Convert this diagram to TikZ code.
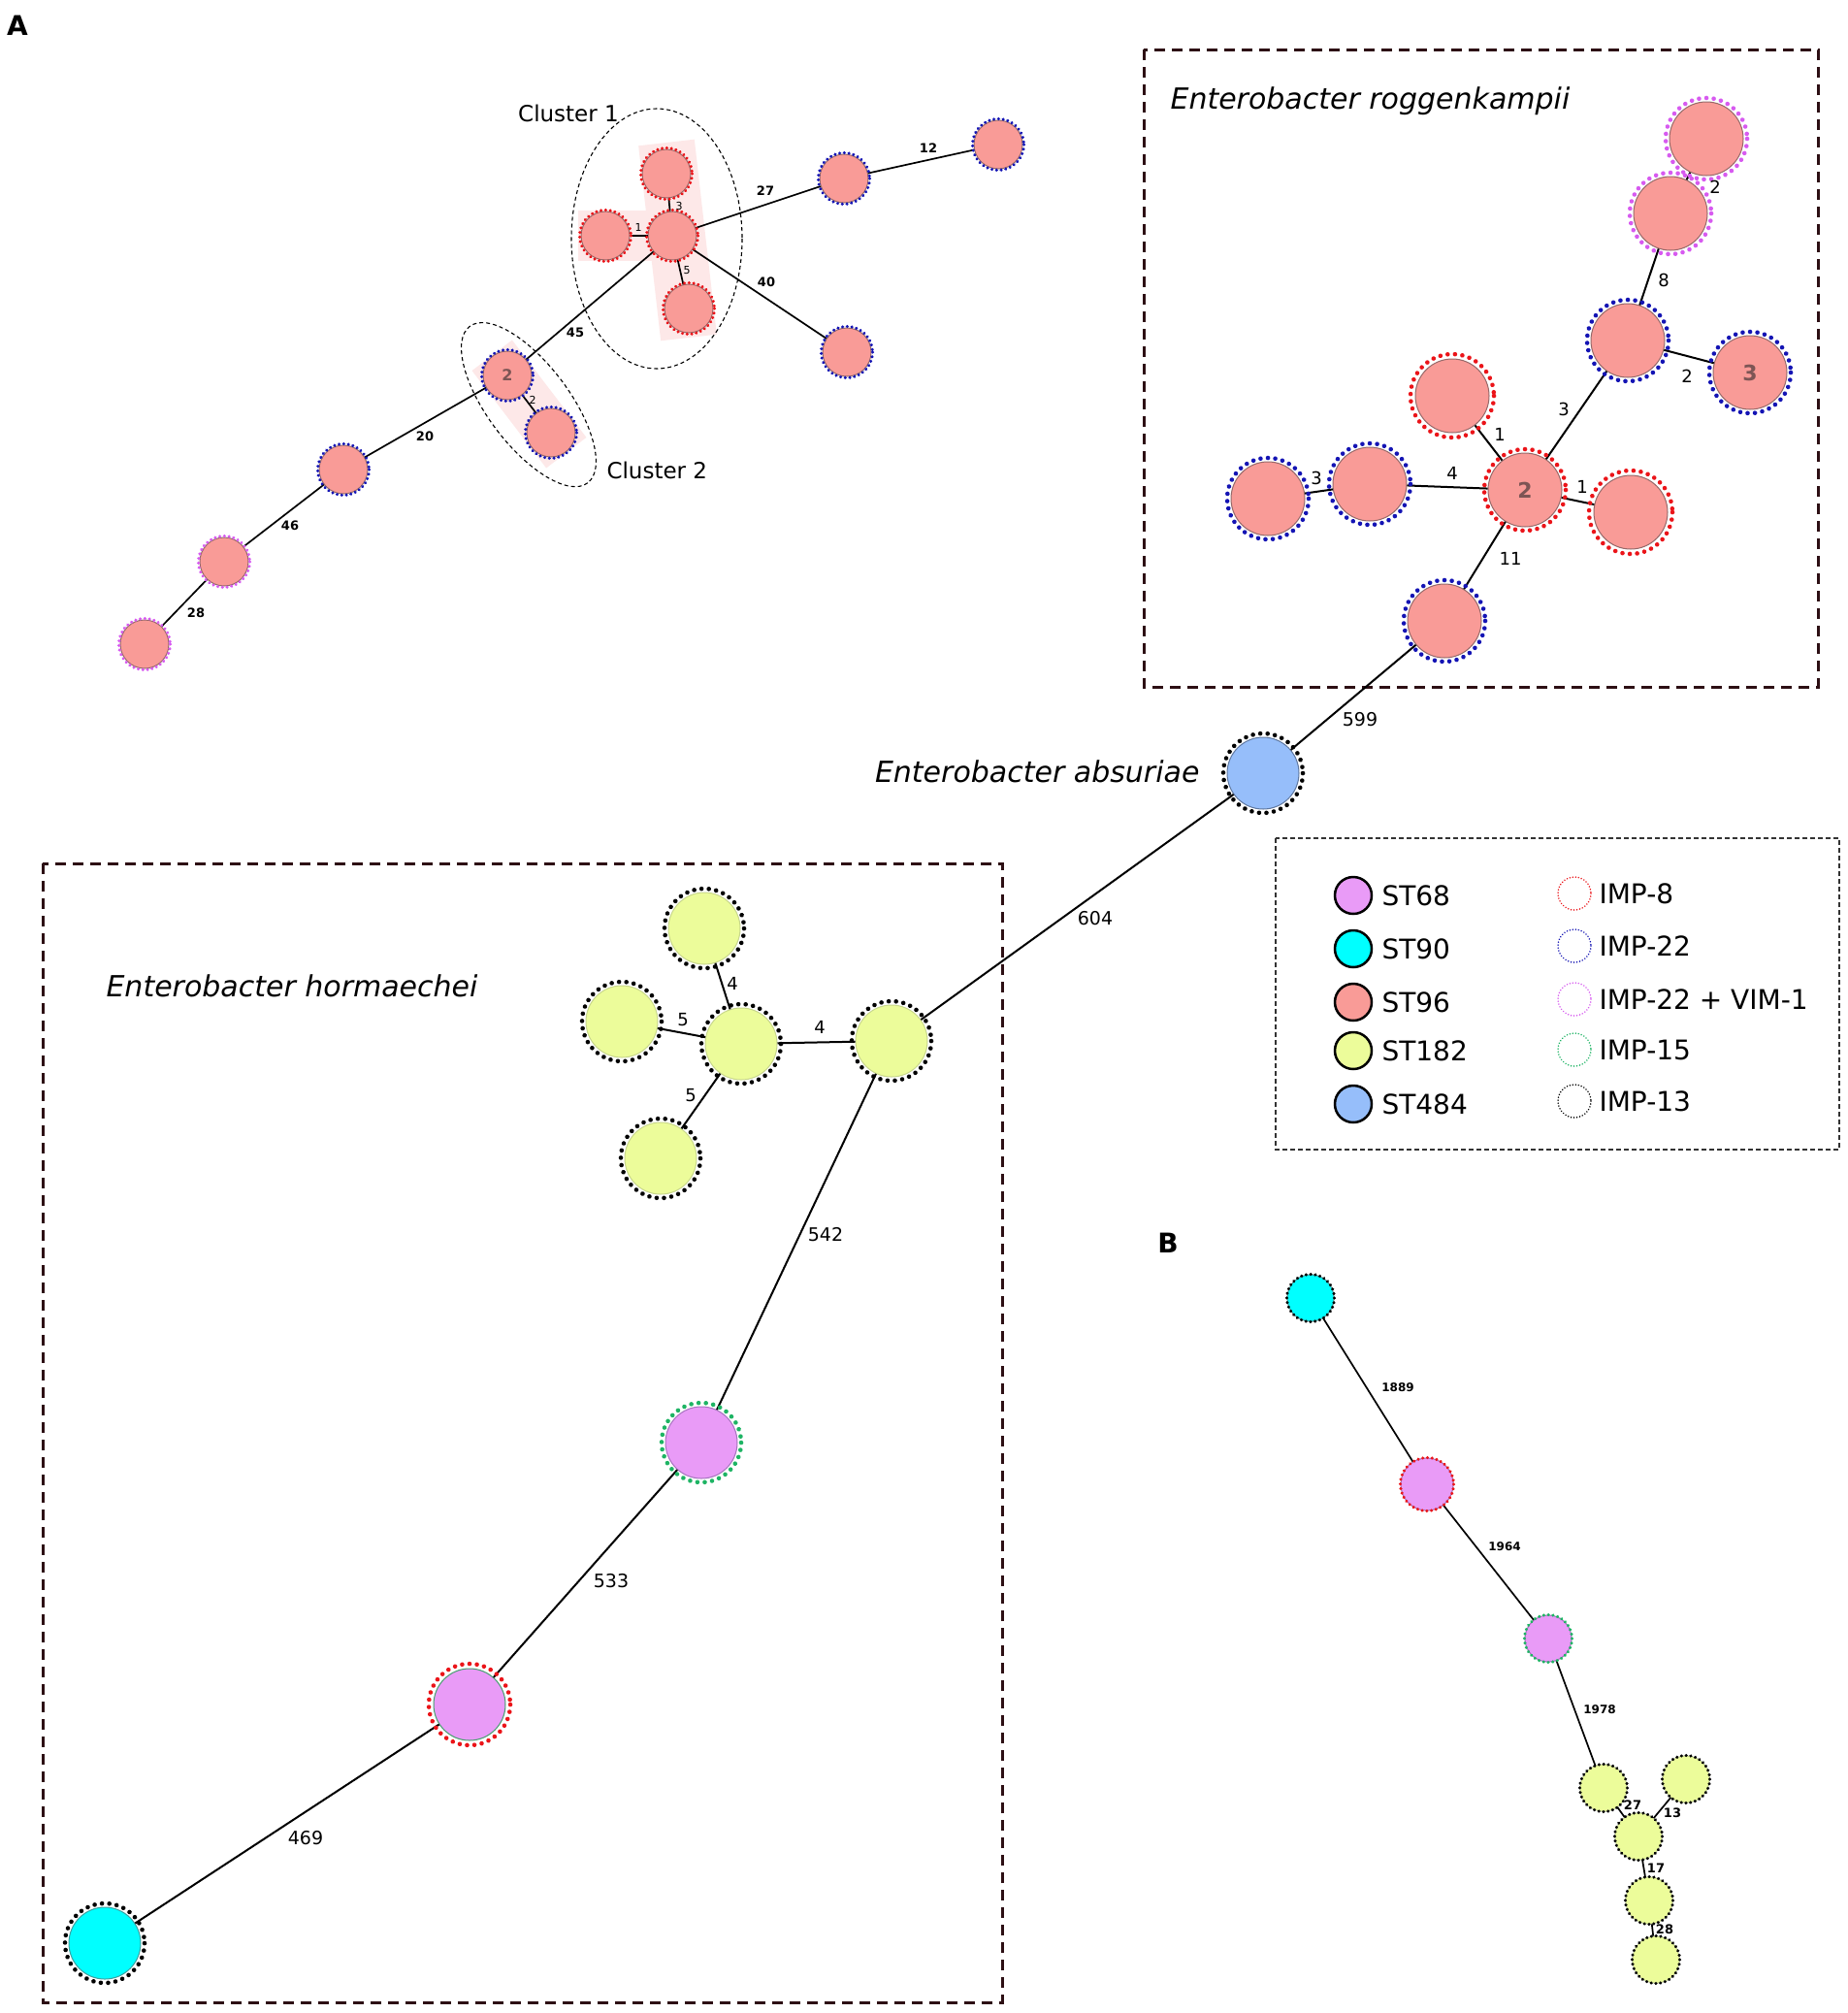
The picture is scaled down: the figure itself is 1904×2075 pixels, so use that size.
\documentclass[tikz,border=0pt]{standalone}
\usepackage{fontspec}
\setmainfont{DejaVu Sans}
\usetikzlibrary{backgrounds}
\definecolor{cA}{RGB}{249,155,151}
\definecolor{cAb}{RGB}{150,105,105}
\definecolor{cY}{RGB}{236,252,154}
\definecolor{cYb}{RGB}{200,215,140}
\definecolor{cP}{RGB}{233,155,247}
\definecolor{cPb}{RGB}{165,115,190}
\definecolor{cC}{RGB}{0,255,255}
\definecolor{cCb}{RGB}{60,160,160}
\definecolor{cB}{RGB}{150,190,250}
\definecolor{cBb}{RGB}{95,120,160}
\definecolor{iR}{RGB}{235,20,25}
\definecolor{iB}{RGB}{20,20,180}
\definecolor{iV}{RGB}{215,90,240}
\definecolor{iG}{RGB}{30,180,100}
\definecolor{boxc}{RGB}{45,15,20}
\definecolor{hl}{RGB}{253,232,232}
\definecolor{numc}{RGB}{125,85,85}
\newcommand\fs[1]{\fontsize{#1}{#1}\selectfont}
\newcommand\mnode[6]{\node[circle,inner sep=0pt,minimum size=2*#4pt,line width=1pt,#5] (#1) at (#2,#3) {#6};}
\newcommand\mring[3]{\draw[#3] (#1.center) circle[radius=#2];}
\tikzset{
 stA/.style={fill=cA,draw=cAb},
 stY/.style={fill=cY,draw=cYb},
 stP/.style={fill=cP,draw=cPb},
 stPg/.style={fill=cP,draw=iG!60!gray},
 stC/.style={fill=cC,draw=cCb},
 stB/.style={fill=cB,draw=cBb},
 ringbig/.style={line width=4.6pt,dash pattern=on 0.01pt off 7.6pt,line cap=round},
 ringsm/.style={line width=3.4pt,dash pattern=on 0.01pt off 4.8pt,line cap=round},
 ringlg/.style={line width=1.7pt,dash pattern=on 0.01pt off 3pt,line cap=round},
 edge/.style={draw=black,line width=2pt},
 edgesm/.style={draw=black,line width=1.7pt},
 lblbig/.style={font=\fs{19}},
 lblmid/.style={font=\fs{18}},
 lbltl/.style={font=\bfseries\fs{13}},
 lbltiny/.style={font=\fs{11}},
 lblB/.style={font=\bfseries\fs{12}},
 sbox/.style={draw=boxc,line width=3pt,dash pattern=on 11pt off 7pt},
 lbox/.style={draw=black!80,line width=1.3pt,dash pattern=on 5pt off 3pt},
 clus/.style={draw=black,line width=1.1pt,dash pattern=on 4pt off 3pt},
 title/.style={font=\itshape\fs{30},anchor=west},
 legt/.style={font=\fs{28},anchor=west},
}
\begin{document}
\begin{tikzpicture}[x=1pt,y=-1pt]
\useasboundingbox (0,0) rectangle (1904,2075);

% panel letters
\node[font=\bfseries\fs{28}] (pA) at (18,26) {A};
\node[font=\bfseries\fs{28}] (pB) at (1204,1281) {B};

% ---------- top-left network ----------
\mnode{tA1}{687}{179}{25}{stA}{}
\mnode{tA2}{624}{243}{25}{stA}{}
\mnode{tA3}{693}{243}{25}{stA}{}
\mnode{tA4}{710}{318}{25}{stA}{}
\mnode{tA5}{870}{184}{25}{stA}{}
\mnode{tA6}{1029}{149}{25}{stA}{}
\mnode{tA7}{873}{363}{25}{stA}{}
\mnode{tA8}{523}{387}{25}{stA}{\textcolor{numc}{\bfseries\fs{16}2}}
\mnode{tA9}{568}{446}{25}{stA}{}
\mnode{tA10}{354}{484}{25}{stA}{}
\mnode{tA11}{231}{579}{25}{stA}{}
\mnode{tA12}{149}{664}{25}{stA}{}

\begin{pgfonlayer}{background}
\fill[white] (0,0) rectangle (1904,2075);
\draw[hl,line width=58pt] ([yshift=32pt]tA1.center) -- ([yshift=-30pt]tA4.center);
\draw[hl,line width=52pt] ([xshift=-28pt]tA2.center) -- (tA3.center);
\draw[hl,line width=52pt,line cap=rect] (tA8.center) -- (tA9.center);
\end{pgfonlayer}

\draw[edgesm] (tA3) -- (tA1);
\draw[edgesm] (tA3) -- (tA2);
\draw[edgesm] (tA3) -- (tA4);
\draw[edgesm] (tA3) -- (tA5);
\draw[edgesm] (tA5) -- (tA6);
\draw[edgesm] (tA3) -- (tA7);
\draw[edgesm] (tA3) -- (tA8);
\draw[edgesm] (tA8) -- (tA9);
\draw[edgesm] (tA8) -- (tA10);
\draw[edgesm] (tA10) -- (tA11);
\draw[edgesm] (tA11) -- (tA12);

\mring{tA1}{26.5}{ringsm,iR}
\mring{tA2}{26.5}{ringsm,iR}
\mring{tA3}{26.5}{ringsm,iR}
\mring{tA4}{26.5}{ringsm,iR}
\mring{tA5}{26.5}{ringsm,iB}
\mring{tA6}{26.5}{ringsm,iB}
\mring{tA7}{26.5}{ringsm,iB}
\mring{tA8}{26.5}{ringsm,iB}
\mring{tA9}{26.5}{ringsm,iB}
\mring{tA10}{26.5}{ringsm,iB}
\mring{tA11}{26.5}{ringsm,iV}
\mring{tA12}{26.5}{ringsm,iV}

\node[lbltl] (e27) at (789,197) {27};
\node[lbltl] (e12) at (957,153) {12};
\node[lbltl] (e40) at (790,291) {40};
\node[lbltl] (e45) at (593,343) {45};
\node[lbltl] (e20) at (438,450) {20};
\node[lbltl] (e46) at (299,542) {46};
\node[lbltl] (e28) at (202,632) {28};
\node[lbltiny] (e1) at (658,234) {1};
\node[lbltiny] (e3) at (700,212) {3};
\node[lbltiny] (e5) at (708,279) {5};
\node[lbltiny] (e2) at (549,412) {2};

\coordinate (c1c) at (677,246);
\draw[clus] (c1c) ellipse[x radius=88,y radius=134];
\coordinate (c2c) at (545,417);
\draw[clus,rotate around={-53:(c2c)}] (c2c) ellipse[x radius=101,y radius=42];
\node[font=\fs{23}] (cl1) at (586,117) {Cluster 1};
\node[font=\fs{23},anchor=west] (cl2) at (622,485) {Cluster 2};

% ---------- E. roggenkampii ----------
\draw[sbox] (1179,51) rectangle (1874,708);
\node[title] (tR) at (1203,104) {Enterobacter roggenkampii};
\mnode{R1}{1759}{143}{38}{stA}{}
\mnode{R2}{1722}{220}{38}{stA}{}
\mnode{R3}{1678}{351}{38}{stA}{}
\mnode{R4}{1804}{384}{38}{stA}{\textcolor{numc}{\bfseries\fs{22}3}}
\mnode{R5}{1497}{408}{38}{stA}{}
\mnode{R6}{1572}{505}{38}{stA}{\textcolor{numc}{\bfseries\fs{22}2}}
\mnode{R7}{1681}{528}{38}{stA}{}
\mnode{R8}{1412}{499}{38}{stA}{}
\mnode{R9}{1307}{514}{38}{stA}{}
\mnode{R10}{1489}{640}{38}{stA}{}
\draw[edge] (R6) -- (R5);
\draw[edge] (R6) -- (R3);
\draw[edge] (R3) -- (R2);
\draw[edge] (R2) -- (R1);
\draw[edge] (R3) -- (R4);
\draw[edge] (R6) -- (R7);
\draw[edge] (R6) -- (R8);
\draw[edge] (R8) -- (R9);
\draw[edge] (R6) -- (R10);
\mring{R1}{42}{ringbig,iV}
\mring{R2}{42}{ringbig,iV}
\mring{R3}{42}{ringbig,iB}
\mring{R4}{42}{ringbig,iB}
\mring{R5}{43}{ringbig,iR}
\mring{R6}{42}{ringbig,iR}
\mring{R7}{43}{ringbig,iR}
\mring{R8}{42}{ringbig,iB}
\mring{R9}{42}{ringbig,iB}
\mring{R10}{42}{ringbig,iB}
\node[lblmid] (r2a) at (1768,193) {2};
\node[lblmid] (r8) at (1715,289) {8};
\node[lblmid] (r2b) at (1739,388) {2};
\node[lblmid] (r3a) at (1612,422) {3};
\node[lblmid] (r1a) at (1546,448) {1};
\node[lblmid] (r4) at (1497,488) {4};
\node[lblmid] (r3b) at (1357,493) {3};
\node[lblmid] (r1b) at (1631,502) {1};
\node[lblmid] (r11) at (1557,576) {11};

% ---------- E. absuriae ----------
\mnode{AB}{1302}{797}{37}{stB}{}
\node[title,anchor=east] (tAb) at (1240,795) {Enterobacter absuriae};

% ---------- E. hormaechei ----------
\draw[sbox] (44,890) rectangle (1033,2064);
\node[title] (tH) at (106,1016) {Enterobacter hormaechei};
\mnode{H1}{919}{1073}{37}{stY}{}
\mnode{H2}{764}{1076}{37}{stY}{}
\mnode{H3}{726}{957}{37}{stY}{}
\mnode{H4}{641}{1053}{37}{stY}{}
\mnode{H5}{681}{1194}{37}{stY}{}
\mnode{H6}{723}{1487}{37}{stP}{}
\mnode{H7}{484}{1757}{37}{stPg}{}
\mnode{H8}{108}{2003}{37}{stC}{}
\draw[edge] (AB) -- (R10);
\draw[edge] (AB) -- (H1);
\draw[edge] (H1) -- (H2);
\draw[edge] (H2) -- (H3);
\draw[edge] (H2) -- (H4);
\draw[edge] (H2) -- (H5);
\draw[edge] (H1) -- (H6);
\draw[edge] (H6) -- (H7);
\draw[edge] (H7) -- (H8);
\mring{AB}{41}{ringbig,black}
\mring{H1}{41}{ringbig,black}
\mring{H2}{41}{ringbig,black}
\mring{H3}{41}{ringbig,black}
\mring{H4}{41}{ringbig,black}
\mring{H5}{41}{ringbig,black}
\mring{H6}{41}{ringbig,iG}
\mring{H7}{42}{ringbig,iR}
\mring{H8}{41}{ringbig,black}
\node[lblbig] (l599) at (1402,742) {599};
\node[lblbig] (l604) at (1129,947) {604};
\node[lblmid] (h4a) at (755,1014) {4};
\node[lblmid] (h5a) at (704,1051) {5};
\node[lblmid] (h4b) at (845,1059) {4};
\node[lblmid] (h5b) at (712,1129) {5};
\node[lblbig] (l542) at (851,1273) {542};
\node[lblbig] (l533) at (630,1630) {533};
\node[lblbig] (l469) at (315,1895) {469};

% ---------- legend ----------
\draw[lbox] (1315,864) rectangle (1896,1185);
\foreach \n/\y/\c/\t in {1/923/cP/ST68,2/978/cC/ST90,3/1033/cA/ST96,4/1083/cY/ST182,5/1138/cB/ST484}{
  \node[circle,inner sep=0pt,minimum size=38pt,fill=\c,draw=black,line width=2.5pt] (Ls\n) at (1395,\y) {};
  \node[legt] (Lst\n) at (1421,\y) {\t};
}
\foreach \n/\y/\c/\t in {1/921/iR/IMP-8,2/975/iB/IMP-22,3/1030/iV/IMP-22 + VIM-1,4/1082/iG/IMP-15,5/1135/black/IMP-13}{
  \node[circle,inner sep=0pt,minimum size=34pt] (Li\n) at (1623,\y) {};
  \mring{Li\n}{17}{ringlg,\c}
  \node[legt] (Lit\n) at (1645,\y) {\t};
}

% ---------- panel B ----------
\mnode{B1}{1351}{1338}{24}{stC}{}
\mnode{B2}{1471}{1530}{27}{stP}{}
\mnode{B3}{1596}{1689}{24}{stP}{}
\mnode{B4}{1653}{1843}{24}{stY}{}
\mnode{B5}{1738}{1834}{24}{stY}{}
\mnode{B6}{1689}{1893}{24}{stY}{}
\mnode{B7}{1700}{1959}{24}{stY}{}
\mnode{B8}{1707}{2020}{24}{stY}{}
\draw[edgesm] (B1) -- (B2);
\draw[edgesm] (B2) -- (B3);
\draw[edgesm] (B3) -- (B4);
\draw[edgesm] (B4) -- (B6);
\draw[edgesm] (B5) -- (B6);
\draw[edgesm] (B6) -- (B7);
\draw[edgesm] (B7) -- (B8);
\mring{B1}{24.5}{ringsm,black}
\mring{B2}{27.5}{ringsm,iR}
\mring{B3}{24.5}{ringsm,iG}
\mring{B4}{24.5}{ringsm,black}
\mring{B5}{24.5}{ringsm,black}
\mring{B6}{24.5}{ringsm,black}
\mring{B7}{24.5}{ringsm,black}
\mring{B8}{24.5}{ringsm,black}
\node[lblB] (b1889) at (1441,1430) {1889};
\node[lblB] (b1964) at (1551,1594) {1964};
\node[lblB] (b1978) at (1649,1762) {1978};
\node[lblB,font=\bfseries\fs{13}] (b27) at (1683,1861) {27};
\node[lblB,font=\bfseries\fs{13}] (b13) at (1724,1869) {13};
\node[lblB,font=\bfseries\fs{13}] (b17) at (1707,1926) {17};
\node[lblB,font=\bfseries\fs{13}] (b28) at (1716,1989) {28};
\end{tikzpicture}
\end{document}
